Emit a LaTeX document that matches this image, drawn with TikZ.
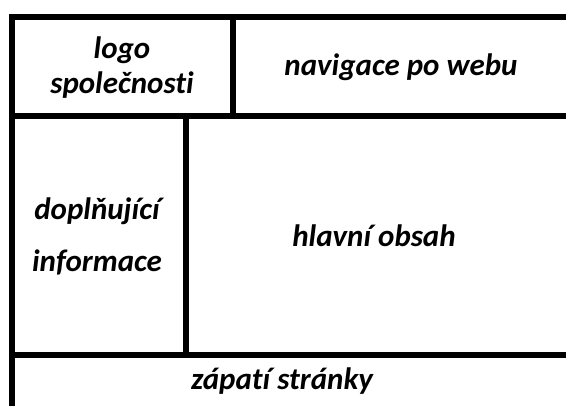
\documentclass[tikz,border=0pt]{standalone}
\usepackage{fontspec}
\setmainfont{Carlito}[Ligatures={NoCommon}]
\usepackage{tikz}
\usetikzlibrary{positioning}
\tikzset{
    wall/.style={line width=6pt, line join=miter}, % dělicí čáry rozvržení
    label box/.style={inner sep=0pt, align=center, font=\fontsize{31}{35}\selectfont\bfseries\itshape} % popisky oblastí
}

\begin{document}
\begin{tikzpicture}[x=1pt, y=-1pt]
            \def\W{566} \def\H{406}
            \useasboundingbox (0,0) rectangle (\W,\H);
            \clip (0,0) rectangle (\W,\H);

            \coordinate (tl) at (12,17);
            \coordinate (hl) at (12,116.5);
            \coordinate (fl) at (12,355);

            \draw[wall] (\W+10,17) -- (tl) -- (12,\H+10);
            \draw[wall] (hl) -- (\W+10,116.5);
            \draw[wall] (fl) -- (\W+10,355);
            \draw[wall] (232.5,17) -- (232.5,116.5);
            \draw[wall] (186,116.5) -- (186,355);

            \node[label box] (logo) at (122,68) {logo\\společnosti};
            \node[label box] (navigace) at (401,67) {navigace po webu};
            \node[label box, font=\fontsize{31}{52}\selectfont\bfseries\itshape] (doplnky) at (97,236) {doplňující\\informace};
            \node[label box] (obsah) at (374,236) {hlavní obsah};
            \node[label box] (zapati) at (282,381) {zápatí stránky};
        \end{tikzpicture}
\end{document}
